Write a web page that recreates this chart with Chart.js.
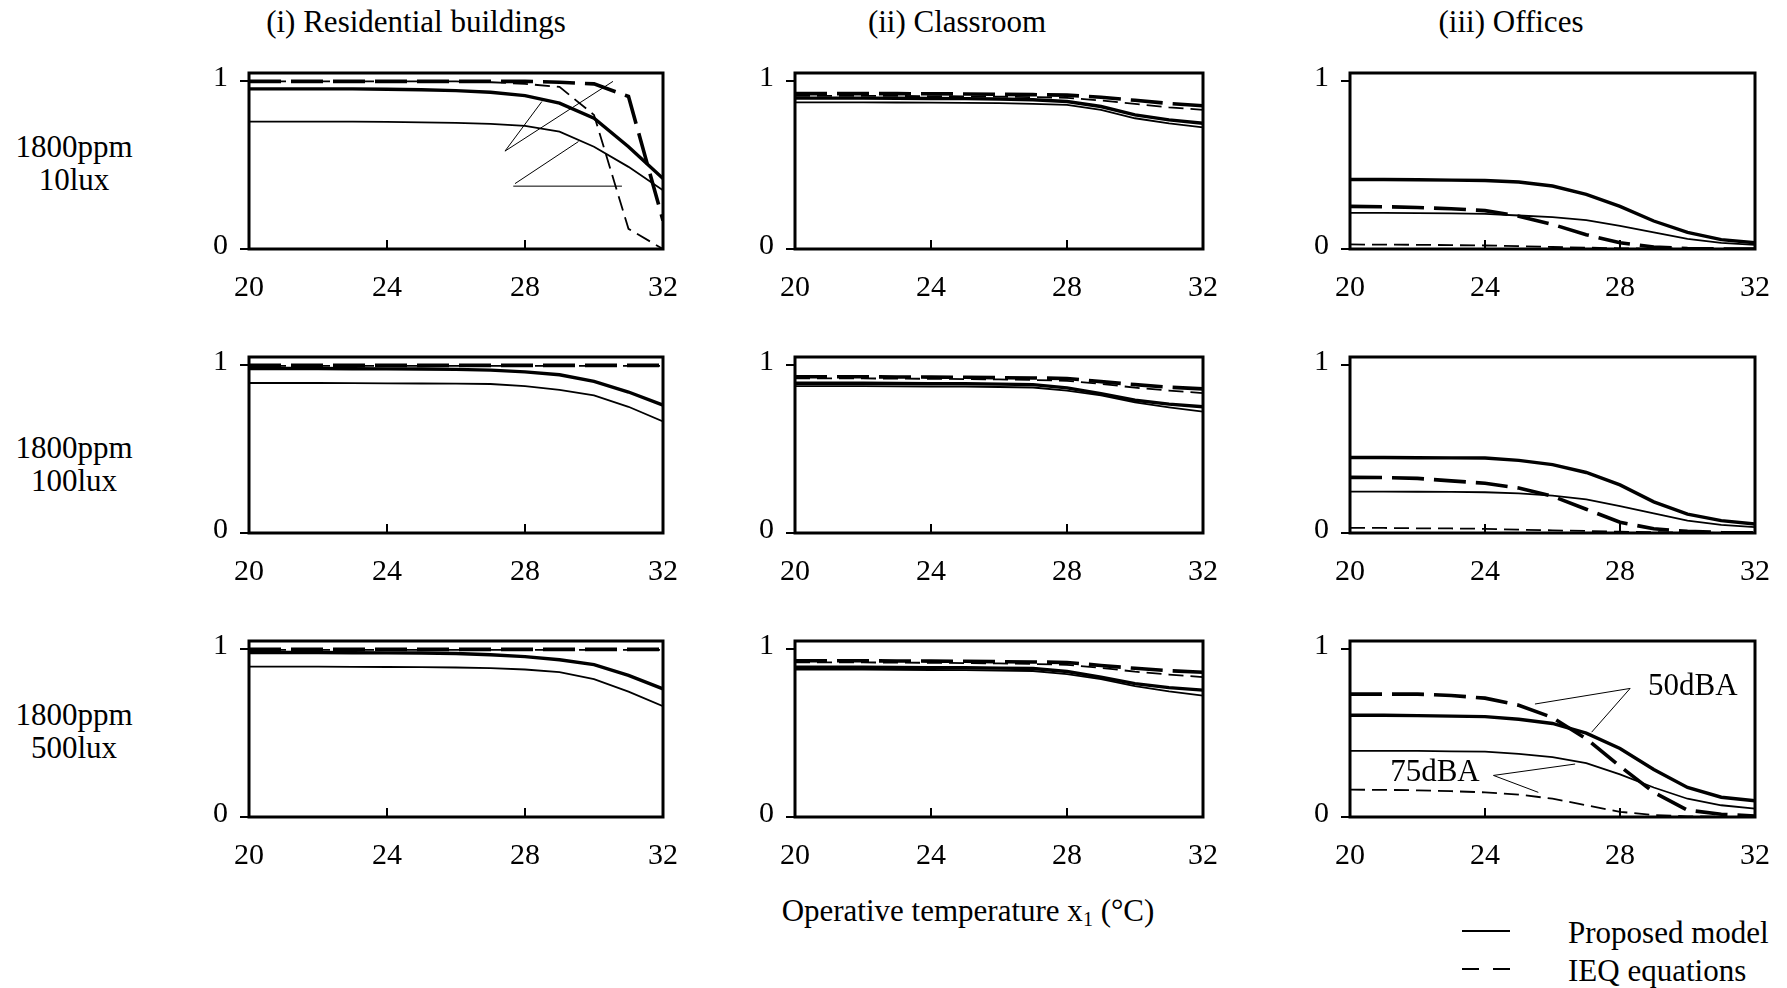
<!DOCTYPE html>
<html>
<head>
<meta charset="utf-8">
<script src="https://cdn.jsdelivr.net/npm/chart.js@4.4.0/dist/chart.umd.min.js"></script>
<style>
body { margin: 0; background: #fff; width: 1787px; height: 988px; position: relative; overflow: hidden;
       font-family: 'Liberation Serif', 'Times New Roman', serif; color: #000; }
canvas { position: absolute; }
.lbl { position: absolute; font-size: 31px; line-height: 1; white-space: nowrap; transform: translate(-50%, -50%); text-align: center; }
.left { transform: translate(0, -50%); text-align: left; }
.key { position: absolute; height: 0; border-top: 2.5px solid #000; }
</style>
</head>
<body>

<div class="lbl" style="left:416px;top:21px">(i) Residential buildings</div>
<div class="lbl" style="left:957px;top:21px">(ii) Classroom</div>
<div class="lbl" style="left:1511px;top:21px">(iii) Offices</div>

<div class="lbl" style="left:74px;top:164px">1800ppm<br><span style="line-height:36px">10lux</span></div>
<div class="lbl" style="left:74px;top:465px">1800ppm<br><span style="line-height:36px">100lux</span></div>
<div class="lbl" style="left:74px;top:732px">1800ppm<br><span style="line-height:36px">500lux</span></div>

<div class="lbl" style="left:968px;top:912px">Operative temperature x<span style="font-size:20px;vertical-align:-5px">1</span> (°C)</div>

<div class="key" style="left:1462px;top:930px;width:48px"></div>
<div class="key" style="left:1462px;top:968px;width:17px"></div>
<div class="key" style="left:1493px;top:968px;width:17px"></div>
<div class="lbl left" style="left:1568px;top:932px">Proposed model</div>
<div class="lbl left" style="left:1568px;top:970px">IEQ equations</div>

<script>
// operative temperature (x axis) and tick values
const temps = [20, 21, 22, 23, 24, 25, 26, 27, 28, 29, 30, 31, 32];
const xTicks = [20, 24, 28, 32];
const yTicks = [0, 1];

// row 1: 1800ppm, 10lux
const res10_model50 = [0.955, 0.955, 0.955, 0.955, 0.953, 0.950, 0.945, 0.935, 0.915, 0.870, 0.780, 0.610, 0.420];
const res10_model75 = [0.760, 0.760, 0.760, 0.760, 0.758, 0.756, 0.752, 0.747, 0.735, 0.700, 0.610, 0.490, 0.350];
const res10_ieq50 = [1, 1, 1, 1, 1, 1, 1, 1, 1, 0.995, 0.985, 0.910, 0.170];
const res10_ieq75 = [1, 1, 1, 1, 1, 1, 1, 0.995, 0.985, 0.967, 0.800, 0.120, 0.0];

const cls10_model50 = [0.900, 0.900, 0.900, 0.899, 0.898, 0.897, 0.895, 0.890, 0.880, 0.850, 0.800, 0.770, 0.750];
const cls10_model75 = [0.875, 0.875, 0.875, 0.874, 0.873, 0.872, 0.870, 0.866, 0.860, 0.830, 0.780, 0.750, 0.725];
const cls10_ieq50 = [0.927, 0.927, 0.927, 0.927, 0.926, 0.925, 0.923, 0.921, 0.918, 0.905, 0.887, 0.868, 0.855];
const cls10_ieq75 = [0.913, 0.913, 0.913, 0.913, 0.912, 0.911, 0.909, 0.906, 0.902, 0.886, 0.866, 0.845, 0.830];

const off10_model50 = [0.415, 0.415, 0.413, 0.411, 0.409, 0.400, 0.376, 0.326, 0.254, 0.167, 0.099, 0.056, 0.037];
const off10_model75 = [0.215, 0.215, 0.214, 0.212, 0.209, 0.200, 0.190, 0.172, 0.138, 0.099, 0.060, 0.037, 0.025];
const off10_ieq50 = [0.254, 0.252, 0.248, 0.240, 0.229, 0.196, 0.147, 0.085, 0.037, 0.012, 0.002, 0, 0];
const off10_ieq75 = [0.027, 0.026, 0.025, 0.023, 0.021, 0.017, 0.012, 0.008, 0.004, 0.002, 0.001, 0, 0];

// row 2: 1800ppm, 100lux
const res100_model50 = [0.981, 0.981, 0.981, 0.980, 0.979, 0.978, 0.976, 0.972, 0.961, 0.944, 0.905, 0.841, 0.763];
const res100_model75 = [0.895, 0.895, 0.895, 0.894, 0.893, 0.892, 0.891, 0.889, 0.876, 0.854, 0.821, 0.753, 0.666];
const res100_ieq50 = [1, 1, 1, 1, 1, 1, 1, 1, 1, 1, 1, 1, 1];
const res100_ieq75 = [0.997, 0.997, 0.997, 0.997, 0.997, 0.997, 0.997, 0.997, 0.997, 0.997, 0.997, 0.997, 0.997];

const cls100_model50 = [0.893, 0.893, 0.893, 0.892, 0.891, 0.890, 0.888, 0.885, 0.866, 0.831, 0.792, 0.769, 0.753];
const cls100_model75 = [0.876, 0.876, 0.876, 0.875, 0.874, 0.873, 0.871, 0.868, 0.850, 0.821, 0.779, 0.750, 0.724];
const cls100_ieq50 = [0.932, 0.932, 0.932, 0.931, 0.930, 0.929, 0.927, 0.925, 0.922, 0.903, 0.885, 0.870, 0.860];
const cls100_ieq75 = [0.922, 0.922, 0.922, 0.921, 0.920, 0.918, 0.916, 0.913, 0.908, 0.890, 0.867, 0.850, 0.835];

const off100_model50 = [0.450, 0.450, 0.449, 0.448, 0.447, 0.433, 0.408, 0.361, 0.287, 0.186, 0.113, 0.074, 0.054];
const off100_model75 = [0.247, 0.247, 0.246, 0.245, 0.243, 0.237, 0.223, 0.200, 0.161, 0.117, 0.074, 0.049, 0.035];
const off100_ieq50 = [0.332, 0.331, 0.326, 0.311, 0.297, 0.268, 0.219, 0.142, 0.064, 0.025, 0.010, 0.003, 0.001];
const off100_ieq75 = [0.031, 0.030, 0.028, 0.027, 0.025, 0.020, 0.016, 0.012, 0.008, 0.005, 0.002, 0.001, 0];

// row 3: 1800ppm, 500lux
const res500_model50 = [0.981, 0.981, 0.981, 0.980, 0.979, 0.978, 0.975, 0.968, 0.957, 0.938, 0.909, 0.845, 0.764];
const res500_model75 = [0.897, 0.897, 0.897, 0.896, 0.895, 0.894, 0.892, 0.888, 0.880, 0.864, 0.822, 0.748, 0.661];
const res500_ieq50 = [1, 1, 1, 1, 1, 1, 1, 1, 1, 1, 1, 1, 1];
const res500_ieq75 = [0.997, 0.997, 0.997, 0.997, 0.997, 0.997, 0.997, 0.997, 0.997, 0.997, 0.997, 0.997, 0.997];

const cls500_model50 = [0.893, 0.893, 0.893, 0.892, 0.891, 0.890, 0.888, 0.886, 0.868, 0.834, 0.796, 0.772, 0.757];
const cls500_model75 = [0.880, 0.880, 0.879, 0.878, 0.877, 0.876, 0.874, 0.871, 0.853, 0.823, 0.781, 0.750, 0.724];
const cls500_ieq50 = [0.932, 0.932, 0.932, 0.931, 0.930, 0.929, 0.927, 0.925, 0.922, 0.904, 0.887, 0.873, 0.864];
const cls500_ieq75 = [0.922, 0.922, 0.922, 0.921, 0.920, 0.918, 0.916, 0.913, 0.908, 0.890, 0.867, 0.850, 0.835];

const off500_model50 = [0.607, 0.607, 0.605, 0.602, 0.599, 0.583, 0.558, 0.500, 0.409, 0.283, 0.176, 0.118, 0.097];
const off500_model75 = [0.395, 0.395, 0.394, 0.392, 0.390, 0.376, 0.357, 0.322, 0.254, 0.176, 0.109, 0.070, 0.050];
const off500_ieq50 = [0.733, 0.733, 0.733, 0.725, 0.709, 0.667, 0.593, 0.467, 0.302, 0.147, 0.041, 0.016, 0.006];
const off500_ieq75 = [0.163, 0.162, 0.159, 0.154, 0.147, 0.134, 0.109, 0.070, 0.031, 0.012, 0.004, 0.001, 0];

// callout lines (x1, y1, x2, y2 in data units) and labels
const resCallouts = [[27.42, 0.584, 28.49, 0.88], [27.42, 0.584, 30.55, 1.0], [27.71, 0.39, 29.55, 0.641], [27.66, 0.375, 30.81, 0.375]];
const noiseCallouts = [[28.30, 0.767, 25.48, 0.674], [28.30, 0.767, 27.16, 0.506], [24.25, 0.248, 26.67, 0.316], [24.25, 0.248, 25.58, 0.147]];
const noiseLabels = ['50dBA', '75dBA'];
const noiseLabelPos = [[28.83, 0.779], [21.19, 0.263]];

// panel layout in page pixels
const colLeft = [249, 795, 1350];
const colRight = [663, 1203, 1755];
const rowBottom = [249, 533, 817];
const plotH = 180.6;

const FONT = "'Liberation Serif', 'Times New Roman', serif";
Chart.defaults.font.family = FONT;
Chart.defaults.color = '#000';

// frame, inner x ticks and callouts
const framePlugin = {
  id: 'frame',
  afterDatasetsDraw(chart, args, opts) {
    const c = chart.ctx, a = chart.chartArea;
    const xs = chart.scales.x, ys = chart.scales.y;
    c.save();
    c.strokeStyle = '#000';
    c.lineWidth = 1;
    (opts.lines || []).forEach(l => {
      c.beginPath();
      c.moveTo(xs.getPixelForValue(l[0]), ys.getPixelForValue(l[1]));
      c.lineTo(xs.getPixelForValue(l[2]), ys.getPixelForValue(l[3]));
      c.stroke();
    });
    c.font = '31px ' + FONT;
    c.fillStyle = '#000';
    c.textAlign = 'left';
    c.textBaseline = 'middle';
    (opts.labels || []).forEach((t, i) => {
      const p = opts.labelPos[i];
      c.fillText(t, xs.getPixelForValue(p[0]), ys.getPixelForValue(p[1]));
    });
    c.lineWidth = 2;
    xTicks.slice(1, -1).forEach(v => {
      const px = Math.round(xs.getPixelForValue(v));
      c.beginPath();
      c.moveTo(px, a.bottom);
      c.lineTo(px, a.bottom - 9);
      c.stroke();
    });
    c.lineWidth = 3;
    c.strokeRect(a.left, a.top, a.right - a.left, a.bottom - a.top);
    c.restore();
  }
};

function pts(arr) {
  return temps.map((t, i) => ({ x: t, y: arr[i] }));
}

function makePanel(row, col, m50, m75, e50, e75, extra) {
  const L = colLeft[col], R = colRight[col], B = rowBottom[row], T = B - plotH;
  const padL = 80, padT = 25, padR = 30, padB = 60;
  const cv = document.createElement('canvas');
  cv.width = Math.round(R - L + padL + padR);
  cv.height = Math.round(B - T + padT + padB);
  cv.style.left = (L - padL) + 'px';
  cv.style.top = (T - padT) + 'px';
  document.body.appendChild(cv);

  new Chart(cv.getContext('2d'), {
    type: 'line',
    data: {
      datasets: [
        { data: pts(m75), borderColor: '#000', borderWidth: 1.8 },
        { data: pts(m50), borderColor: '#000', borderWidth: 3.4 },
        { data: pts(e75), borderColor: '#000', borderWidth: 1.8, borderDash: [15, 7] },
        { data: pts(e50), borderColor: '#000', borderWidth: 3.6, borderDash: [32, 10] }
      ]
    },
    options: {
      responsive: false,
      animation: false,
      layout: { padding: { left: 0, top: padT, right: padR, bottom: 0 } },
      elements: { point: { radius: 0 }, line: { tension: 0, fill: false, borderCapStyle: 'butt' } },
      plugins: {
        legend: { display: false },
        tooltip: { enabled: false },
        frame: extra || {}
      },
      scales: {
        x: {
          type: 'linear', min: 20, max: 32,
          afterBuildTicks: s => { s.ticks = xTicks.map(v => ({ value: v })); },
          afterFit: s => { s.height = padB; },
          grid: { display: false },
          border: { display: false },
          ticks: { font: { size: 30 }, padding: 13, maxRotation: 0, autoSkip: false, color: '#000' }
        },
        y: {
          min: 0, max: 1.05,
          afterBuildTicks: s => { s.ticks = yTicks.map(v => ({ value: v })); },
          afterFit: s => { s.width = padL; },
          grid: { drawOnChartArea: false, drawTicks: true, tickLength: 9, color: '#000', lineWidth: 2 },
          border: { display: false },
          ticks: { font: { size: 30 }, padding: 12, labelOffset: -3, color: '#000' }
        }
      }
    },
    plugins: [framePlugin]
  });
}

makePanel(0, 0, res10_model50, res10_model75, res10_ieq50, res10_ieq75, { lines: resCallouts });
makePanel(0, 1, cls10_model50, cls10_model75, cls10_ieq50, cls10_ieq75);
makePanel(0, 2, off10_model50, off10_model75, off10_ieq50, off10_ieq75);
makePanel(1, 0, res100_model50, res100_model75, res100_ieq50, res100_ieq75);
makePanel(1, 1, cls100_model50, cls100_model75, cls100_ieq50, cls100_ieq75);
makePanel(1, 2, off100_model50, off100_model75, off100_ieq50, off100_ieq75);
makePanel(2, 0, res500_model50, res500_model75, res500_ieq50, res500_ieq75);
makePanel(2, 1, cls500_model50, cls500_model75, cls500_ieq50, cls500_ieq75);
makePanel(2, 2, off500_model50, off500_model75, off500_ieq50, off500_ieq75,
  { lines: noiseCallouts, labels: noiseLabels, labelPos: noiseLabelPos });
</script>
</body>
</html>
